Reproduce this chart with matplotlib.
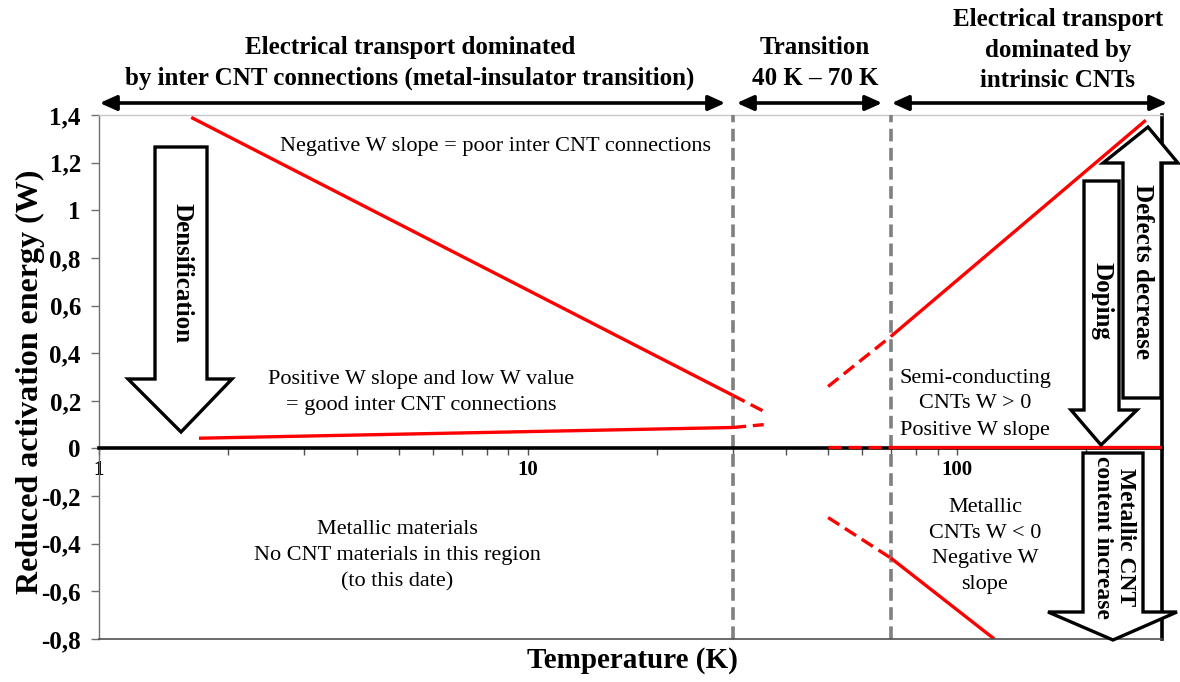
import matplotlib
matplotlib.use("Agg")
import matplotlib.pyplot as plt
from matplotlib.patches import Polygon, FancyArrowPatch
from matplotlib.ticker import FixedLocator, LogLocator, NullFormatter

plt.rcParams['font.family'] = ['Liberation Serif', 'DejaVu Serif']

# ---- data ----
T_neg = [1.64, 30]
W_neg = [1.39, 0.223]
T_neg_ext = [30, 35.4]
W_neg_ext = [0.223, 0.156]

T_pos = [1.71, 30]
W_pos = [0.043, 0.088]
T_pos_ext = [30, 35.4]
W_pos_ext = [0.088, 0.100]

T_semi = [70, 275]
W_semi = [0.47, 1.378]
T_semi_ext = [50, 70]
W_semi_ext = [0.26, 0.47]

T_met = [70, 122]
W_met = [-0.46, -0.80]
T_met_ext = [50, 70]
W_met_ext = [-0.29, -0.46]

T_zero = [70, 300]
W_zero = [0.005, 0.005]
T_zero_ext = [50, 70]
W_zero_ext = [0.005, 0.005]

T_bounds = [30, 70]

y_ticks = [1.4, 1.2, 1.0, 0.8, 0.6, 0.4, 0.2, 0.0, -0.2, -0.4, -0.6, -0.8]
y_ticklabels = ['1,4', '1,2', '1', '0,8', '0,6', '0,4', '0,2', '0',
                '-0,2', '-0,4', '-0,6', '-0,8']
x_ticks = [1, 10, 100]
x_ticklabels = ['1', '10', '100']

W, H = 1180, 682
fig = plt.figure(figsize=(W / 100, H / 100), dpi=100)
L, R, T, B = 99, 1162, 115, 639
ax = fig.add_axes([L / W, 1 - B / H, (R - L) / W, (B - T) / H])

def fx(x):
    return x / W

def fy(y):
    return 1 - y / H

ax.set_xscale('log')
ax.set_xlim(1, 300)
ax.set_ylim(-0.8, 1.4)

red = '#ff0000'
lw = 2.4
dash = (0, (4, 2))
ax.plot(T_neg, W_neg, color=red, lw=lw, solid_capstyle='butt', zorder=4)
ax.plot(T_neg_ext, W_neg_ext, color=red, lw=lw, ls=dash, zorder=4)
ax.plot(T_pos, W_pos, color=red, lw=lw, solid_capstyle='butt', zorder=4)
ax.plot(T_pos_ext, W_pos_ext, color=red, lw=lw, ls=dash, zorder=4)
ax.plot(T_semi, W_semi, color=red, lw=lw, solid_capstyle='butt', zorder=4)
ax.plot(T_semi_ext, W_semi_ext, color=red, lw=lw, ls=dash, zorder=4)
ax.plot(T_met, W_met, color=red, lw=lw, solid_capstyle='butt', zorder=4)
ax.plot(T_met_ext, W_met_ext, color=red, lw=lw, ls=dash, zorder=4)
ax.plot(T_zero, W_zero, color=red, lw=lw, zorder=6)
ax.plot(T_zero_ext, W_zero_ext, color=red, lw=lw, ls=dash, zorder=6)

for tb in T_bounds:
    ax.axvline(tb, color='#808080', lw=2.6, ls=(0, (3.5, 1.8)), zorder=3)

# spines
ax.spines['bottom'].set_position(('data', 0))
ax.spines['bottom'].set_linewidth(2.6)
ax.spines['bottom'].set_color('black')
ax.spines['bottom'].set_zorder(5)
ax.spines['left'].set_color('#707070')
ax.spines['left'].set_linewidth(1.0)
ax.spines['top'].set_color('#c8c8c8')
ax.spines['top'].set_linewidth(1.0)
ax.spines['right'].set_color('black')
ax.spines['right'].set_linewidth(2.6)
ax.axhline(-0.8, color='#505050', lw=1.2, clip_on=False, zorder=5)

ax.yaxis.set_major_locator(FixedLocator(y_ticks))
ax.set_yticklabels(y_ticklabels, fontsize=18, fontweight='bold')
ax.tick_params(axis='y', direction='out', length=6, width=1, color='#707070', pad=7)

ax.xaxis.set_major_locator(FixedLocator(x_ticks))
ax.set_xticklabels(x_ticklabels, fontsize=15, fontweight='bold')
ax.xaxis.set_minor_locator(LogLocator(base=10, subs=range(2, 10)))
ax.xaxis.set_minor_formatter(NullFormatter())
ax.tick_params(axis='x', which='both', direction='out', length=5, width=1,
               color='#505050', pad=3)

fig.text(fx(30), fy(382), 'Reduced activation energy (W)', fontsize=23,
         fontweight='bold', rotation=90, ha='center', va='center')
fig.text(fx(632), fy(660), 'Temperature (K)', fontsize=21, fontweight='bold',
         ha='center', va='center')

# header
hdr = dict(fontsize=18, fontweight='bold', ha='center', va='center', linespacing=1.4)
fig.text(fx(410), fy(63), 'Electrical transport dominated\nby inter CNT connections (metal-insulator transition)', **hdr)
fig.text(fx(815), fy(63), 'Transition\n40 K \u2013 70 K', **hdr)
fig.text(fx(1058), fy(50), 'Electrical transport\ndominated by\nintrinsic CNTs', **hdr)

for x0, x1 in [(97, 728), (734, 885), (889, 1170)]:
    fig.add_artist(FancyArrowPatch(
        (fx(x0), fy(103)), (fx(x1), fy(103)), transform=fig.transFigure,
        arrowstyle='<|-|>,head_length=10,head_width=4.5', mutation_scale=1,
        lw=2.6, color='black'))

# annotations
ann = dict(fontsize=16, ha='center', va='center', linespacing=1.5, zorder=7)
fig.text(fx(495), fy(147), 'Negative W slope = poor inter CNT connections', **ann)
fig.text(fx(421), fy(392), 'Positive W slope and low W value\n= good inter CNT connections', **ann)
fig.text(fx(975), fy(404), 'Semi-conducting\nCNTs W > 0\nPositive W slope', **ann)
fig.text(fx(985), fy(546), 'Metallic\nCNTs W < 0\nNegative W\nslope', **ann)
fig.text(fx(397), fy(556), 'Metallic materials\nNo CNT materials in this region\n(to this date)', **ann)

# block arrows (pixel layout -> figure fraction)
def block_arrow(sl, sr, s_end, h_start, hl, hr, tip_x, tip_y):
    pts = [(sl, s_end), (sr, s_end), (sr, h_start), (hr, h_start),
           (tip_x, tip_y), (hl, h_start), (sl, h_start)]
    poly = Polygon([(fx(x), fy(y)) for x, y in pts], closed=True,
                   transform=fig.transFigure, facecolor='white',
                   edgecolor='black', lw=2.4, joinstyle='miter', zorder=8)
    fig.add_artist(poly)

block_arrow(155, 207, 147, 379, 128, 232, 181, 432)       # Densification
block_arrow(1123, 1161, 398, 163, 1103, 1178, 1148, 127)  # Defects decrease
block_arrow(1084, 1119, 181, 410, 1071, 1137, 1101, 445)  # Doping
block_arrow(1083, 1143, 453, 612, 1048, 1177, 1113, 640)  # Metallic CNT

rot = dict(fontweight='bold', ha='center', va='center', rotation=-90, zorder=9,
           rotation_mode='anchor')
fig.text(fx(182), fy(273), 'Densification', fontsize=18, **rot)
fig.text(fx(1102), fy(301), 'Doping', fontsize=18, **rot)
fig.text(fx(1143), fy(272), 'Defects decrease', fontsize=18, **rot)
fig.text(fx(1114), fy(537), 'Metallic CNT\ncontent increase', fontsize=17,
         linespacing=1.15, **rot)

fig.savefig('out.png', dpi=100)
